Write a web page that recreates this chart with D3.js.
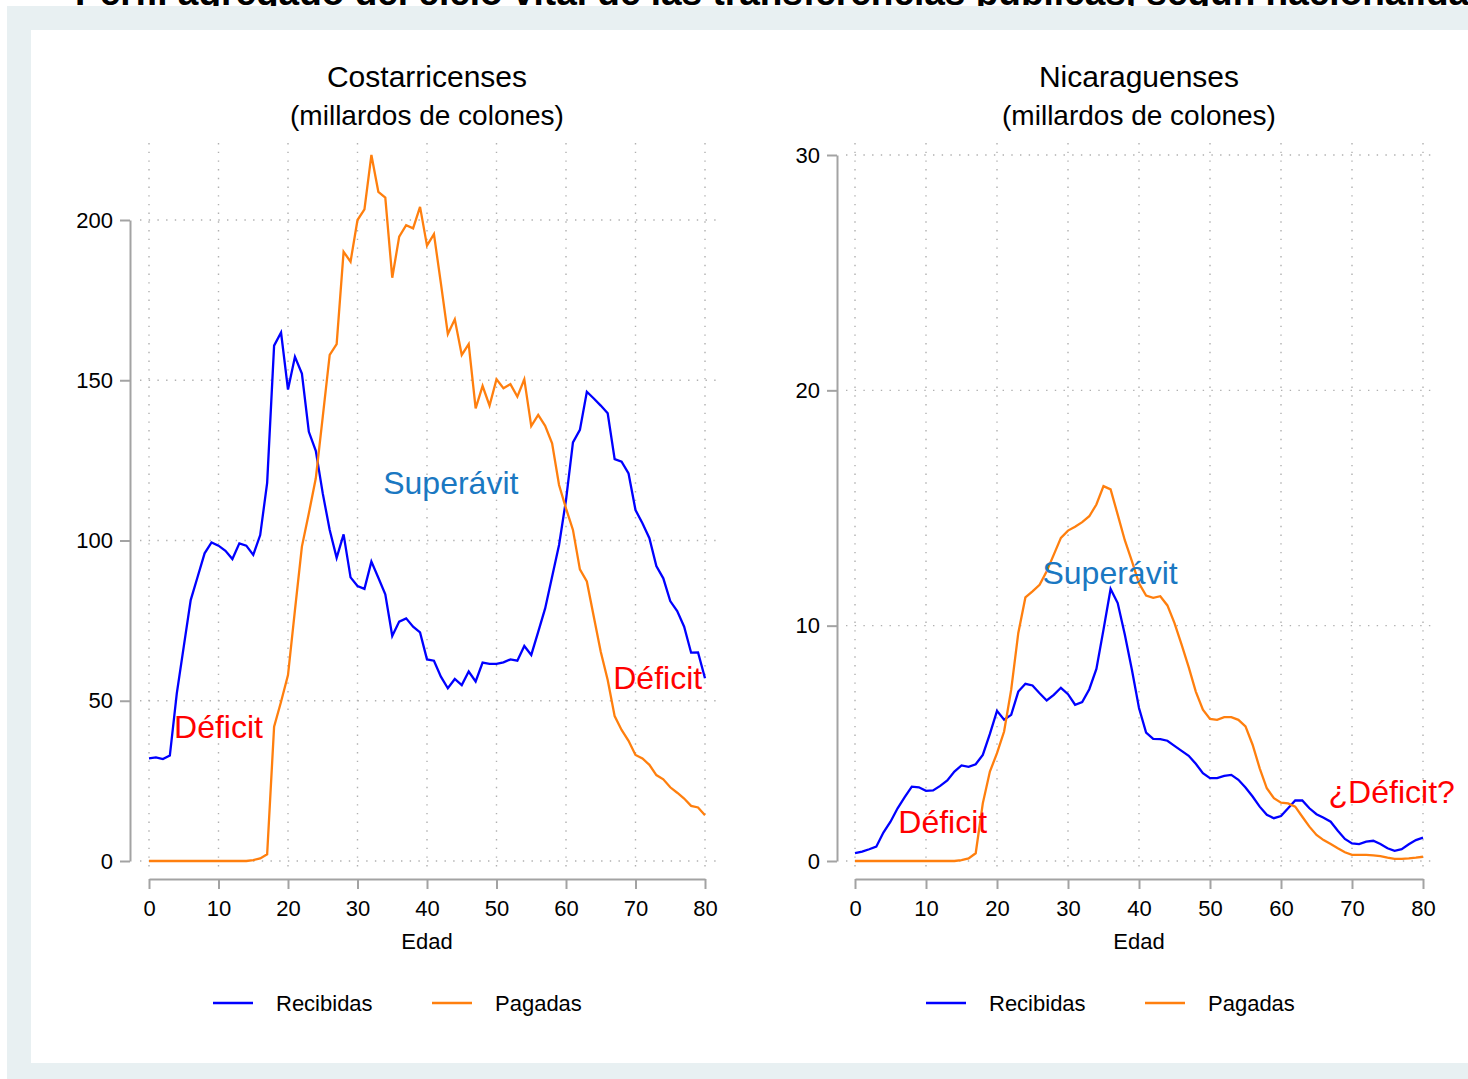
<!DOCTYPE html>
<html>
<head>
<meta charset="utf-8">
<script src="https://cdn.jsdelivr.net/npm/d3@7"></script>
<style>
  body { margin: 0; background: #ffffff; }
  svg { display: block; }
  text { font-family: "Liberation Sans", Arial, Helvetica, sans-serif; }
</style>
</head>
<body>
<svg id="chart" width="1468" height="1079"></svg>
<script>
// Edad (años)
const ages = [0,1,2,3,4,5,6,7,8,9,10,11,12,13,14,15,16,17,18,19,20,21,22,23,24,25,26,27,28,29,30,
  31,32,33,34,35,36,37,38,39,40,41,42,43,44,45,46,47,48,49,50,51,52,53,54,55,56,57,58,59,60,
  61,62,63,64,65,66,67,68,69,70,71,72,73,74,75,76,77,78,79,80];

// Costarricenses, millardos de colones
const costaRecibidas = [32.0,32.3,31.8,32.9,52.3,66.9,81.4,88.7,96.0,99.4,98.4,96.8,94.2,99.1,98.4,95.5,
  101.7,118.0,160.8,164.9,147.1,157.3,152.1,133.9,128.0,114.7,103.3,94.6,101.9,88.5,85.8,84.9,93.4,88.4,
  83.2,70.2,74.7,75.7,73.1,71.3,62.9,62.5,57.5,53.9,56.8,54.9,59.1,56.0,61.9,61.5,61.5,62.0,62.9,62.5,
  67.1,64.3,71.5,78.8,88.7,98.6,112.6,130.6,134.5,146.4,144.3,142.1,139.7,125.4,124.6,120.9,109.5,105.4,
  100.7,92.0,88.2,81.1,78.0,73.1,65.0,65.1,57.0];
const costaPagadas = [0,0,0,0,0,0,0,0,0,0,0,0,0,0,0,0.3,0.8,2.1,41.9,49.7,58.0,78.3,98.1,108.5,119.4,
  138.6,157.9,161.3,190.1,187.0,200.0,203.3,220.3,208.8,207.0,182.0,194.8,198.4,197.4,204.1,192.0,195.6,
  180.2,164.4,169.0,157.9,161.3,141.2,148.2,142.1,150.3,147.5,148.8,144.9,150.3,135.7,139.2,135.8,130.3,
  117.3,110.0,103.3,91.0,87.2,76.2,65.3,56.5,45.2,40.9,37.5,33.1,32.0,30.0,26.8,25.5,23.0,21.3,19.5,
  17.2,16.7,14.3];

// Nicaragüenses, millardos de colones
const nicaRecibidas = [0.33,0.40,0.50,0.61,1.21,1.67,2.24,2.71,3.16,3.13,2.98,3.00,3.19,3.42,3.80,4.06,
  4.00,4.11,4.51,5.40,6.38,6.00,6.21,7.20,7.53,7.46,7.13,6.82,7.06,7.36,7.09,6.64,6.75,7.30,8.16,9.83,
  11.56,10.96,9.62,8.13,6.50,5.46,5.19,5.18,5.11,4.89,4.68,4.47,4.13,3.73,3.52,3.52,3.62,3.66,3.45,3.12,
  2.74,2.31,1.96,1.82,1.91,2.24,2.57,2.57,2.24,1.99,1.84,1.67,1.29,0.94,0.75,0.72,0.82,0.86,0.72,0.54,
  0.43,0.50,0.71,0.89,0.99];
const nicaPagadas = [0,0,0,0,0,0,0,0,0,0,0,0,0,0,0,0.04,0.11,0.33,2.45,3.80,4.58,5.50,7.28,9.69,11.20,
  11.46,11.74,12.31,13.02,13.73,14.04,14.20,14.40,14.65,15.15,15.93,15.79,14.72,13.63,12.74,11.80,11.28,
  11.18,11.25,10.86,10.11,9.19,8.24,7.20,6.43,6.04,6.00,6.11,6.11,6.00,5.72,4.94,3.94,3.09,2.67,2.48,
  2.45,2.31,1.88,1.46,1.11,0.89,0.72,0.54,0.37,0.26,0.26,0.26,0.24,0.21,0.14,0.09,0.09,0.11,0.14,0.18];

const xTicks = [0,10,20,30,40,50,60,70,80];
const costaTicks = [0,50,100,150,200];
const nicaTicks = [0,10,20,30];

// Annotations positioned in data units (edad, valor at text baseline)
const costaNotes = [
  { text: "Superávit", age: 33.7, value: 114.5, kind: "sup" },
  { text: "Déficit",   age: 3.6,  value: 38.4,  kind: "def" },
  { text: "Déficit",   age: 66.8, value: 53.7,  kind: "def" }
];
const nicaNotes = [
  { text: "Superávit", age: 26.4, value: 11.75, kind: "sup" },
  { text: "Déficit",   age: 6.1,  value: 1.20,  kind: "def" },
  { text: "¿Déficit?", age: 66.7, value: 2.48,  kind: "def" }
];

const seriesNames = ["Recibidas", "Pagadas"];
const colors = { Recibidas: "#0000ff", Pagadas: "#ff7f0e" };

const svg = d3.select("#chart");

// Header title (mostly above the visible frame)
svg.append("text")
  .attr("x", 75).attr("y", 5)
  .attr("font-size", 37).attr("font-weight", "bold").attr("fill", "#000")
  .text("Perfil agregado del ciclo vital de las transferencias públicas, según nacionalidad");

// Outer band and white panel
svg.append("rect").attr("x", 7).attr("y", 6).attr("width", 1461).attr("height", 1073).attr("fill", "#e8f0f2");
svg.append("rect").attr("x", 31).attr("y", 30).attr("width", 1437).attr("height", 1033).attr("fill", "#ffffff");

const panels = [
  { title: "Costarricenses", recibidas: costaRecibidas, pagadas: costaPagadas, yMax: 200, yTicks: costaTicks,
    xRange: [149, 705], yRange: [861, 220], gridX: [140, 720], axisX: 130, notes: costaNotes, legendX: 213 },
  { title: "Nicaraguenses", recibidas: nicaRecibidas, pagadas: nicaPagadas, yMax: 30, yTicks: nicaTicks,
    xRange: [855, 1423], yRange: [861, 155], gridX: [846, 1435], axisX: 837, notes: nicaNotes, legendX: 926 }
];

const gridColor = "#b0b0b0";
const axisColor = "#a3a3a3";

panels.forEach(p => {
  const x = d3.scaleLinear().domain([0, 80]).range(p.xRange);
  const y = d3.scaleLinear().domain([0, p.yMax]).range(p.yRange);
  const g = svg.append("g");
  const cx = (p.xRange[0] + p.xRange[1]) / 2;

  // Titles
  g.append("text").attr("x", cx).attr("y", 87).attr("text-anchor", "middle")
    .attr("font-size", 30).attr("fill", "#000").text(p.title);
  g.append("text").attr("x", cx).attr("y", 125).attr("text-anchor", "middle")
    .attr("font-size", 28).attr("fill", "#000").text("(millardos de colones)");

  // Dotted grid
  g.append("g").selectAll("line").data(xTicks).join("line")
    .attr("x1", d => x(d)).attr("x2", d => x(d))
    .attr("y1", 143).attr("y2", 871)
    .attr("stroke", gridColor).attr("stroke-width", 1.4).attr("stroke-dasharray", "1.4 7.3");
  g.append("g").selectAll("line").data(p.yTicks).join("line")
    .attr("x1", p.gridX[0]).attr("x2", p.gridX[1])
    .attr("y1", d => y(d)).attr("y2", d => y(d))
    .attr("stroke", gridColor).attr("stroke-width", 1.4).attr("stroke-dasharray", "1.4 7.3");

  // Axes
  const yAxis = g.append("g").attr("transform", `translate(${p.axisX},0)`)
    .call(d3.axisLeft(y).tickValues(p.yTicks).tickSize(10).tickSizeOuter(0).tickPadding(7).tickFormat(d3.format("d")));
  const xAxis = g.append("g").attr("transform", "translate(0,879)")
    .call(d3.axisBottom(x).tickValues(xTicks).tickSize(10).tickSizeOuter(0).tickPadding(11).tickFormat(d3.format("d")));
  [yAxis, xAxis].forEach(a => {
    a.select(".domain").attr("stroke", axisColor).attr("stroke-width", 2);
    a.selectAll(".tick line").attr("stroke", axisColor).attr("stroke-width", 2);
    a.selectAll(".tick text").attr("font-size", 22).attr("fill", "#000")
      .attr("font-family", "'Liberation Sans', Arial, sans-serif");
  });

  g.append("text").attr("x", cx).attr("y", 949).attr("text-anchor", "middle")
    .attr("font-size", 22).attr("fill", "#000").text("Edad");

  // Series lines
  const line = d3.line().x((d, i) => x(ages[i])).y(d => y(d));
  [["Recibidas", p.recibidas], ["Pagadas", p.pagadas]].forEach(([name, vals]) => {
    g.append("path").datum(vals)
      .attr("d", line)
      .attr("fill", "none")
      .attr("stroke", colors[name])
      .attr("stroke-width", 2.3)
      .attr("stroke-linejoin", "miter");
  });

  // Annotations
  g.append("g").selectAll("text").data(p.notes).join("text")
    .attr("x", d => x(d.age)).attr("y", d => y(d.value))
    .attr("font-family", "'Noto Sans', 'Open Sans', sans-serif")
    .attr("font-size", 32)
    .attr("fill", d => d.kind === "sup" ? "#1a78c2" : "#ff0000")
    .text(d => d.text);

  // Legend
  const lg = g.append("g");
  seriesNames.forEach((name, i) => {
    const lx = p.legendX + i * 219;
    lg.append("line").attr("x1", lx).attr("x2", lx + 40).attr("y1", 1003).attr("y2", 1003)
      .attr("stroke", colors[name]).attr("stroke-width", 2.6);
    lg.append("text").attr("x", lx + 63).attr("y", 1011).attr("font-size", 22).attr("fill", "#000").text(name);
  });
});
</script>
</body>
</html>
